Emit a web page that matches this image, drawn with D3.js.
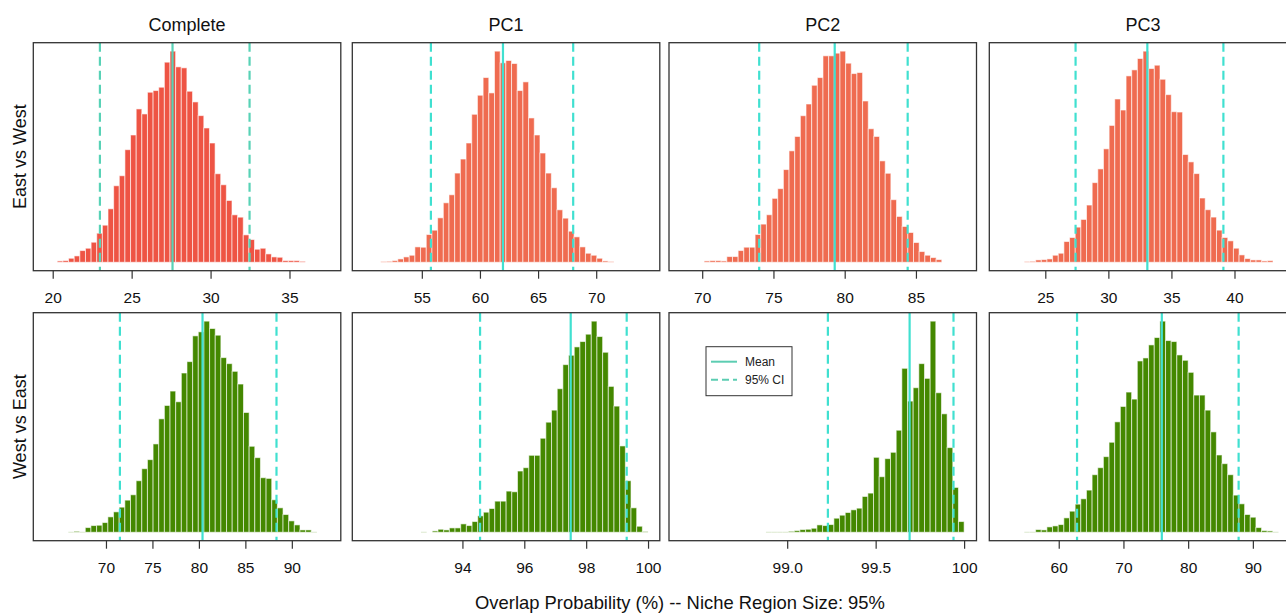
<!DOCTYPE html>
<html>
<head>
<meta charset="utf-8">
<script src="https://cdn.jsdelivr.net/npm/d3@7"></script>
<style>
  html, body { margin: 0; padding: 0; background: #fff; }
  svg { display: block; font-family: "Liberation Sans", Arial, Helvetica, sans-serif; }
</style>
</head>
<body>
<svg id="chart" width="1286" height="614"></svg>
<script>
// ---------------- data ----------------
const columnTitles = ["Complete", "PC1", "PC2", "PC3"];
const rowLabels = ["East vs West", "West vs East"];
const axisTitle = "Overlap Probability (%) -- Niche Region Size: 95%";

// histogram bin starts / widths (% overlap), panels ordered row by row
const binStart = [20.29, 51.47, 70.14, 23.34, 65.95, 92.66, 98.88, 54.68];
const binWidth = [0.357, 0.489, 0.397, 0.448, 0.608, 0.1835, 0.032, 0.873];

const countsEWComplete = [4,5,12,19,35,42,60,87,111,160,229,259,337,381,459,444,509,514,524,599,632,585,582,512,480,439,402,357,265,232,185,142,135,82,68,39,42,25,16,15,5,5,5,3];
const countsEWPC1 = [2,3,5,10,16,21,46,45,83,96,133,178,202,267,309,357,443,500,553,507,632,597,604,595,514,540,432,381,327,267,223,157,132,93,76,46,27,21,12,4,2];
const countsEWPC2 = [4,5,5,4,17,17,35,45,45,83,114,142,191,220,277,333,376,438,473,529,552,617,617,625,631,595,564,567,482,399,376,303,266,187,137,107,89,59,32,21,14,8];
const countsEWPC3 = [2,3,7,8,10,21,27,62,74,105,128,171,238,279,339,409,488,455,557,575,609,631,579,589,547,501,450,449,322,300,265,192,157,135,96,74,64,42,22,11,7,7,4,5];
const countsWEComplete = [1,3,1,14,20,21,29,46,61,75,96,112,154,190,217,264,339,379,422,390,476,510,587,599,631,609,589,522,504,481,443,358,257,223,163,161,97,73,53,34,22,7,7,1];
const countsWEPC1 = [1,0,4,9,7,13,13,25,20,32,49,60,71,93,93,123,121,183,193,230,230,281,329,365,429,501,529,554,570,592,631,585,538,436,377,258,154,73,18,2];
const countsWEPC2 = [1,1,1,1,3,5,8,9,12,22,20,23,42,51,59,67,72,107,117,224,166,220,239,305,490,392,432,504,460,631,417,354,253,134,32];
const countsWEPC3 = [1,1,8,7,16,19,23,43,63,84,100,126,172,193,226,269,330,376,419,398,512,521,560,582,631,573,570,530,514,478,410,410,365,300,231,205,172,111,85,53,45,14,5,4,1];

const meanVals = [27.59, 61.98, 79.30, 33.09, 80.39, 97.50, 99.692, 75.93];
const ciLow    = [22.99, 55.78, 74.00, 27.40, 71.50, 94.57, 99.23, 62.83];
const ciHigh   = [32.47, 68.02, 84.42, 39.12, 88.35, 99.31, 99.94, 87.80];

// axis limits (plotting region) and tick labels
const xMin = [18.77, 49.02, 67.67, 20.56, 62.18, 90.44, 98.332, 49.27];
const xMax = [38.25, 75.47, 89.25, 44.94, 95.27, 100.38, 100.07, 96.79];
const tickLabels = [
  ["20", "25", "30", "35"],
  ["55", "60", "65", "70"],
  ["70", "75", "80", "85"],
  ["25", "30", "35", "40"],
  ["70", "75", "80", "85", "90"],
  ["94", "96", "98", "100"],
  ["99.0", "99.5", "100"],
  ["60", "70", "80", "90"]
];
const legendLabels = ["Mean", "95% CI"];

const allCounts = [countsEWComplete, countsEWPC1, countsEWPC2, countsEWPC3,
                   countsWEComplete, countsWEPC1, countsWEPC2, countsWEPC3];

// ---------------- layout / style ----------------
const panelLeft = [33.3, 352.3, 669, 989.3];
const panelW = 307.5;
const rowTop = [42.7, 312.7];
const panelH = 228;
const barFill = ["#ee5444", "#ef6b50", "#ef6b50", "#ef6b50",
                 "#448800", "#448800", "#448800", "#448800"];
const lineCol = ["#58d2b6", "#40e0d0", "#40e0d0", "#40e0d0",
                 "#40e0d0", "#40e0d0", "#40e0d0", "#40e0d0"];

const svg = d3.select("#chart");
const defs = svg.append("defs");

allCounts.forEach((counts, p) => {
  const row = Math.floor(p / 4), col = p % 4;
  const x0 = panelLeft[col], y0 = rowTop[row];
  const g = svg.append("g").attr("transform", `translate(${x0},${y0})`);

  defs.append("clipPath").attr("id", "clip" + p)
    .append("rect").attr("x", 0).attr("y", 0).attr("width", panelW).attr("height", panelH);

  const x = d3.scaleLinear().domain([xMin[p], xMax[p]]).range([0, panelW]);
  const maxC = d3.max(counts);
  const y = d3.scaleLinear().domain([-0.04 * maxC, 1.04 * maxC]).range([panelH, 0]);

  const bins = counts.map((c, i) => ({
    x0: binStart[p] + i * binWidth[p],
    x1: binStart[p] + (i + 1) * binWidth[p],
    c
  }));

  const plot = g.append("g").attr("clip-path", `url(#clip${p})`);
  plot.selectAll("rect.bar").data(bins).join("rect")
    .attr("class", "bar")
    .attr("x", d => x(d.x0))
    .attr("width", d => x(d.x1) - x(d.x0))
    .attr("y", d => y(d.c))
    .attr("height", d => y(0) - y(d.c))
    .attr("fill", barFill[p])
    .attr("stroke", "#ffffff")
    .attr("stroke-opacity", 0.6)
    .attr("stroke-width", 1);

  // CI lines
  [ciLow[p], ciHigh[p]].forEach(v => {
    plot.append("line")
      .attr("x1", x(v)).attr("x2", x(v))
      .attr("y1", 0).attr("y2", panelH)
      .attr("stroke", lineCol[p]).attr("stroke-width", 2.2)
      .attr("stroke-dasharray", "9,5");
  });
  // mean line
  plot.append("line")
    .attr("x1", x(meanVals[p])).attr("x2", x(meanVals[p]))
    .attr("y1", 0).attr("y2", panelH)
    .attr("stroke", lineCol[p]).attr("stroke-width", 2.2);

  // box
  g.append("rect").attr("x", 0).attr("y", 0).attr("width", panelW).attr("height", panelH)
    .attr("fill", "none").attr("stroke", "#333").attr("stroke-width", 1.3);

  // x axis
  const tickVals = tickLabels[p].map(Number);
  const axis = d3.axisBottom(x).tickValues(tickVals)
    .tickFormat((d, i) => tickLabels[p][i])
    .tickSize(8).tickPadding(13.5);
  const ax = g.append("g").attr("transform", `translate(0,${panelH})`).call(axis);
  ax.select(".domain").remove();
  ax.selectAll(".tick line").attr("stroke", "#333").attr("stroke-width", 1.2);
  ax.selectAll(".tick text").attr("font-size", 15.5).attr("fill", "#111")
    .attr("font-family", "\"Liberation Sans\", Arial, sans-serif");

  // column title
  if (row === 0) {
    svg.append("text").attr("x", x0 + panelW / 2).attr("y", 31)
      .attr("text-anchor", "middle").attr("font-size", 18).attr("fill", "#111")
      .text(columnTitles[col]);
  }
  // row label
  if (col === 0) {
    svg.append("text")
      .attr("transform", `translate(26,${y0 + panelH / 2}) rotate(-90)`)
      .attr("text-anchor", "middle").attr("font-size", 18).attr("fill", "#111")
      .text(rowLabels[row]);
  }

  // legend in PC2 bottom panel
  if (p === 6) {
    const lg = g.append("g").attr("transform", "translate(37,34)");
    lg.append("rect").attr("x", 0).attr("y", 0).attr("width", 86).attr("height", 49)
      .attr("fill", "#fff").attr("stroke", "#333").attr("stroke-width", 1);
    legendLabels.forEach((lab, i) => {
      const ly = 15 + i * 18;
      lg.append("line").attr("x1", 5).attr("x2", 31).attr("y1", ly).attr("y2", ly)
        .attr("stroke", "#5ccdb2").attr("stroke-width", 2)
        .attr("stroke-dasharray", i === 0 ? null : "7,4");
      lg.append("text").attr("x", 39).attr("y", ly).attr("dy", "0.35em")
        .attr("font-size", 12).attr("fill", "#222").text(lab);
    });
  }
});

svg.append("text").attr("x", 680).attr("y", 608.5)
  .attr("text-anchor", "middle").attr("font-size", 18.4).attr("fill", "#111")
  .text(axisTitle);
</script>
</body>
</html>
